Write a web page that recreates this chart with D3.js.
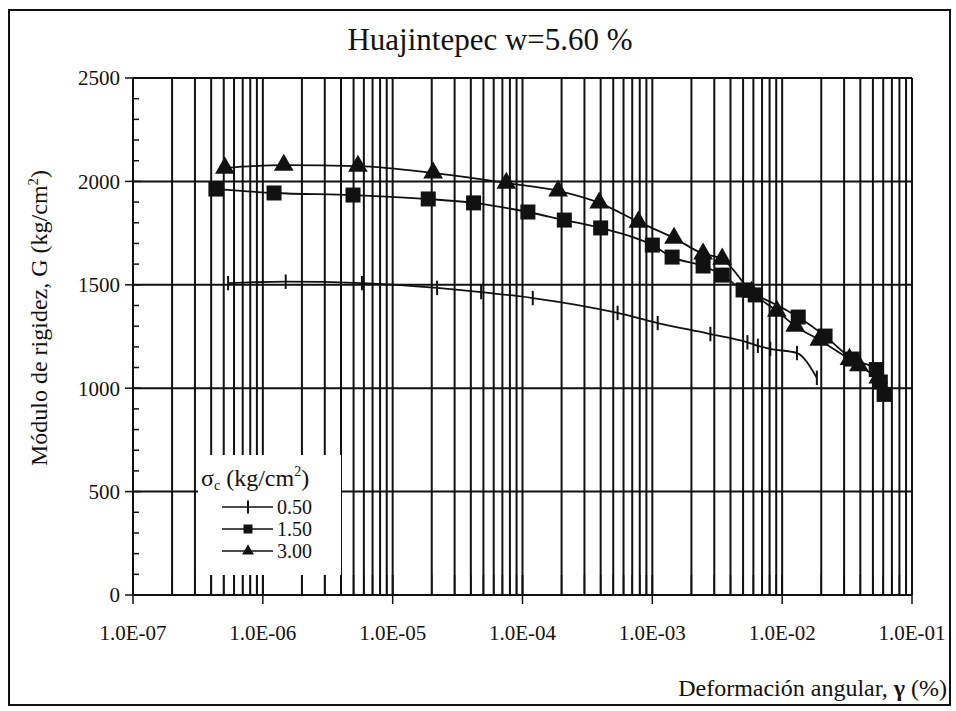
<!DOCTYPE html>
<html>
<head>
<meta charset="utf-8">
<script src="https://cdn.jsdelivr.net/npm/d3@7/dist/d3.min.js"></script>
<style>
  body { margin: 0; background: #fff; }
</style>
</head>
<body>
<div id="chart"></div>
<script>
// Data: shear strain (%) and shear modulus (kg/cm2)
const gamma050 = [5.4e-7, 1.5e-6, 5.8e-6, 2.2e-5, 4.8e-5, 1.2e-4, 5.4e-4, 1.1e-3, 2.8e-3, 5.4e-3, 6.5e-3, 8.1e-3, 1.3e-2, 1.85e-2];
const g050     = [1508, 1515, 1508, 1485, 1465, 1436, 1364, 1315, 1262, 1222, 1205, 1190, 1170, 1050];

const gamma150 = [4.35e-7, 1.22e-6, 4.95e-6, 1.88e-5, 4.2e-5, 1.1e-4, 2.1e-4, 4.0e-4, 1.0e-3, 1.42e-3, 2.46e-3, 3.45e-3, 5.0e-3, 6.2e-3, 1.33e-2, 2.14e-2, 3.46e-2, 5.3e-2, 5.7e-2, 6.1e-2];
const g150     = [1963, 1944, 1934, 1915, 1896, 1852, 1813, 1775, 1692, 1634, 1591, 1547, 1475, 1451, 1344, 1252, 1141, 1090, 1030, 970];

const gamma300 = [5.1e-7, 1.45e-6, 5.4e-6, 2.05e-5, 7.5e-5, 1.88e-4, 3.9e-4, 7.8e-4, 1.47e-3, 2.46e-3, 3.45e-3, 5.8e-3, 9.1e-3, 1.26e-2, 1.93e-2, 3.3e-2, 3.9e-2, 5.5e-2];
const g300     = [2065, 2079, 2074, 2041, 1992, 1954, 1896, 1804, 1726, 1650, 1625, 1465, 1373, 1301, 1233, 1140, 1110, 1050];

const seriesNames = ["0.50", "1.50", "3.00"];
const xTickValues = [1e-7, 1e-6, 1e-5, 1e-4, 1e-3, 1e-2, 1e-1];
const xTickLabels = ["1.0E-07", "1.0E-06", "1.0E-05", "1.0E-04", "1.0E-03", "1.0E-02", "1.0E-01"];
const yTickValues = [0, 500, 1000, 1500, 2000, 2500];

const width = 956;
const height = 711;
const margin = { top: 78, right: 44, bottom: 116, left: 133 };
const innerW = width - margin.left - margin.right;
const innerH = height - margin.top - margin.bottom;
const serif = "'Liberation Serif', 'Times New Roman', serif";

const svg = d3.select("#chart")
  .append("svg")
  .attr("width", width)
  .attr("height", height)
  .attr("font-family", serif)
  .style("font-family", serif);

// outer frame
svg.append("rect")
  .attr("x", 9).attr("y", 10)
  .attr("width", 941).attr("height", 695)
  .attr("fill", "none")
  .attr("stroke", "#111")
  .attr("stroke-width", 2);

svg.append("text")
  .attr("x", 490)
  .attr("y", 50)
  .attr("text-anchor", "middle")
  .attr("font-size", 31)
  .attr("fill", "#111")
  .text("Huajintepec w=5.60 %");

const g = svg.append("g")
  .attr("transform", `translate(${margin.left},${margin.top})`);

const x = d3.scaleLog().domain([1e-7, 1e-1]).range([0, innerW]);
const y = d3.scaleLinear().domain([0, 2500]).range([innerH, 0]);

// every log position 1..9 in each decade
const logGrid = [];
xTickValues.slice(0, -1).forEach(d => {
  for (let k = 1; k <= 9; k++) logGrid.push(d * k);
});
logGrid.push(1e-1);

g.append("g")
  .selectAll("line")
  .data(logGrid)
  .join("line")
    .attr("x1", d => x(d)).attr("x2", d => x(d))
    .attr("y1", 0).attr("y2", innerH)
    .attr("stroke", "#111")
    .attr("stroke-width", 2);

g.append("g")
  .selectAll("line")
  .data(yTickValues.slice(1))
  .join("line")
    .attr("x1", 0).attr("x2", innerW)
    .attr("y1", d => y(d)).attr("y2", d => y(d))
    .attr("stroke", "#111")
    .attr("stroke-width", 2);

// legend background hides the grid behind it
g.append("rect")
  .attr("x", 198 - margin.left)
  .attr("y", 455 - margin.top)
  .attr("width", 143)
  .attr("height", 120)
  .attr("fill", "#fff");

// y axis: minor ticks inward, major ticks outward
const yAxis = g.append("g");
yAxis.append("line")
  .attr("x1", 0).attr("x2", 0).attr("y1", 0).attr("y2", innerH)
  .attr("stroke", "#111").attr("stroke-width", 2);
yAxis.selectAll(".minor")
  .data(d3.range(100, 2500, 100).filter(d => d % 500 !== 0))
  .join("line")
    .attr("x1", 0).attr("x2", 6)
    .attr("y1", d => y(d)).attr("y2", d => y(d))
    .attr("stroke", "#111").attr("stroke-width", 1.5);
yAxis.selectAll(".major")
  .data(yTickValues)
  .join("line")
    .attr("x1", -8).attr("x2", 8)
    .attr("y1", d => y(d)).attr("y2", d => y(d))
    .attr("stroke", "#111").attr("stroke-width", 1.5);
yAxis.selectAll("text")
  .data(yTickValues)
  .join("text")
    .attr("x", -13)
    .attr("y", d => y(d))
    .attr("dy", "0.35em")
    .attr("text-anchor", "end")
    .attr("font-size", 21)
    .attr("fill", "#111")
    .text(d => d);

// x axis
const xAxis = g.append("g").attr("transform", `translate(0,${innerH})`);
xAxis.append("line")
  .attr("x1", 0).attr("x2", innerW)
  .attr("stroke", "#111").attr("stroke-width", 2);
xAxis.selectAll(".minor")
  .data(logGrid)
  .join("line")
    .attr("x1", d => x(d)).attr("x2", d => x(d))
    .attr("y1", -20).attr("y2", 0)
    .attr("stroke", "#111").attr("stroke-width", 1.5);
xAxis.selectAll(".major")
  .data(xTickValues)
  .join("line")
    .attr("x1", d => x(d)).attr("x2", d => x(d))
    .attr("y1", -20).attr("y2", 9)
    .attr("stroke", "#111").attr("stroke-width", 1.5);
xAxis.selectAll("text")
  .data(xTickValues)
  .join("text")
    .attr("x", d => x(d))
    .attr("y", 45)
    .attr("text-anchor", "middle")
    .attr("font-size", 21)
    .attr("fill", "#111")
    .text((d, i) => xTickLabels[i]);

// axis titles
const xTitle = svg.append("text")
  .attr("x", 947)
  .attr("y", 696)
  .attr("text-anchor", "end")
  .attr("font-size", 24)
  .attr("fill", "#111");
xTitle.append("tspan").text("Deformación angular, ");
xTitle.append("tspan").attr("font-weight", "bold").text("γ");
xTitle.append("tspan").text(" (%)");

const yTitle = svg.append("text")
  .attr("transform", "translate(47,318) rotate(-90)")
  .attr("text-anchor", "middle")
  .attr("font-size", 24)
  .attr("fill", "#111");
yTitle.append("tspan").text("Módulo de rigidez, G (kg/cm");
yTitle.append("tspan").attr("font-size", 15).attr("dy", -9).text("2");
yTitle.append("tspan").attr("dy", 9).text(")");

// series
const series = [
  { name: seriesNames[0], pts: gamma050.map((d, i) => [d, g050[i]]), marker: "plus" },
  { name: seriesNames[1], pts: gamma150.map((d, i) => [d, g150[i]]), marker: "square" },
  { name: seriesNames[2], pts: gamma300.map((d, i) => [d, g300[i]]), marker: "triangle" }
];

const line = d3.line()
  .x(d => x(d[0]))
  .y(d => y(d[1]))
  .curve(d3.curveMonotoneX);

function drawMarker(sel, type, size) {
  if (type === "plus") {
    sel.append("line")
      .attr("x1", 0).attr("x2", 0)
      .attr("y1", -size * 0.8).attr("y2", size * 0.8)
      .attr("stroke", "#111").attr("stroke-width", 2);
  } else if (type === "square") {
    sel.append("rect")
      .attr("x", -size / 2).attr("y", -size / 2)
      .attr("width", size).attr("height", size)
      .attr("fill", "#111");
  } else {
    const s = d3.symbol().type(d3.symbolTriangle).size(size * size * 0.75);
    sel.append("path").attr("d", s()).attr("fill", "#111");
  }
}

series.forEach(s => {
  g.append("path")
    .datum(s.pts)
    .attr("fill", "none")
    .attr("stroke", "#111")
    .attr("stroke-width", 1.8)
    .attr("d", line);

  g.append("g")
    .selectAll("g")
    .data(s.pts)
    .join("g")
      .attr("transform", d => `translate(${x(d[0])},${y(d[1])})`)
      .each(function () { drawMarker(d3.select(this), s.marker, s.marker === "plus" ? 9 : 15); });
});

// legend
const legend = svg.append("g");
const legTitle = legend.append("text")
  .attr("x", 201)
  .attr("y", 486)
  .attr("font-size", 24)
  .attr("fill", "#111");
legTitle.append("tspan").text("σ");
legTitle.append("tspan").attr("font-size", 14).attr("dy", 4).text("c");
legTitle.append("tspan").attr("dy", -4).text(" (kg/cm");
legTitle.append("tspan").attr("font-size", 14).attr("dy", -10).text("2");
legTitle.append("tspan").attr("dy", 10).text(")");

const legRows = legend.selectAll(".row")
  .data(series)
  .join("g")
    .attr("transform", (d, i) => `translate(222,${507 + i * 22})`);
legRows.append("line")
  .attr("x1", 0).attr("x2", 51)
  .attr("stroke", "#111").attr("stroke-width", 1.5);
legRows.each(function (d) {
  const m = d3.select(this).append("g").attr("transform", "translate(26,0)");
  drawMarker(m, d.marker, d.marker === "plus" ? 8 : 9);
});
legRows.append("text")
  .attr("x", 55)
  .attr("dy", "0.35em")
  .attr("font-size", 20)
  .attr("fill", "#111")
  .text(d => d.name);
</script>
</body>
</html>
